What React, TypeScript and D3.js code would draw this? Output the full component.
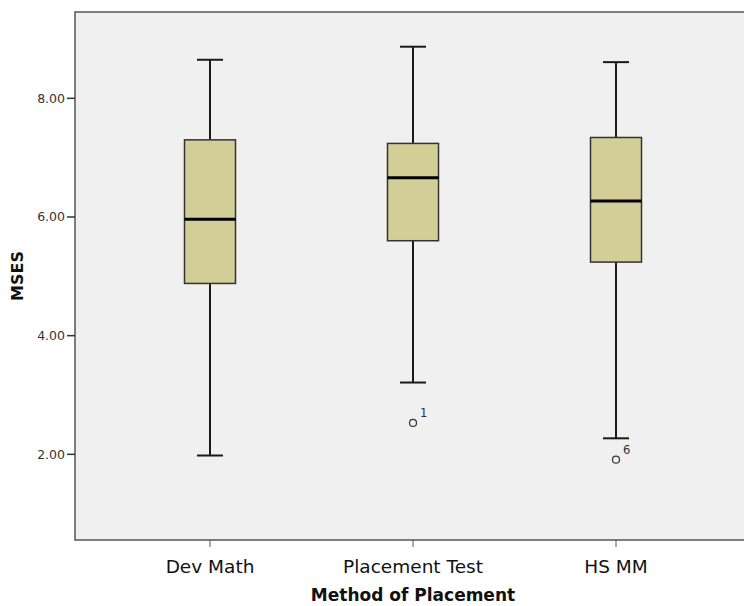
import React, { useEffect, useRef } from 'react';
import * as d3 from 'd3';

// Box plot summary values
const categories = ['Dev Math', 'Placement Test', 'HS MM'];
const whiskerLow = [1.98, 3.21, 2.27];
const q1 = [4.88, 5.60, 5.24];
const median = [5.96, 6.66, 6.27];
const q3 = [7.30, 7.24, 7.34];
const whiskerHigh = [8.65, 8.87, 8.61];
const outliers = [
    { cat: 'Placement Test', value: 2.53, label: '1' },
    { cat: 'HS MM', value: 1.91, label: '6' },
];
const yTicks = [2, 4, 6, 8];

const App = () => {
    const svgRef = useRef(null);

    useEffect(() => {
        const svg = d3.select(svgRef.current);
        svg.selectAll('*').remove();

        const left = 75, top = 12, right = 751, bottom = 540;
        const font = '"DejaVu Sans", Verdana, sans-serif';

        const x = d3.scalePoint()
            .domain(categories)
            .range([left, right])
            .padding(0.665);

        const y = d3.scaleLinear()
            .domain([0.556, 9.455])
            .range([bottom, top]);

        // Plot background
        svg.append('rect')
            .attr('x', left)
            .attr('y', top)
            .attr('width', right - left)
            .attr('height', bottom - top)
            .attr('fill', '#f0f0f0')
            .attr('stroke', '#555')
            .attr('stroke-width', 1.5);

        // Y axis ticks
        const yAxis = svg.append('g');
        yTicks.forEach(t => {
            yAxis.append('line')
                .attr('x1', left - 8).attr('x2', left)
                .attr('y1', y(t)).attr('y2', y(t))
                .attr('stroke', '#333').attr('stroke-width', 1.5);
            yAxis.append('text')
                .attr('x', left - 10)
                .attr('y', y(t))
                .attr('dy', '0.35em')
                .attr('text-anchor', 'end')
                .style('font-family', font)
                .style('font-size', '12.5px')
                .style('fill', '#333')
                .text(t.toFixed(2));
        });

        // X axis ticks
        const xAxis = svg.append('g');
        categories.forEach(c => {
            xAxis.append('line')
                .attr('x1', x(c)).attr('x2', x(c))
                .attr('y1', bottom).attr('y2', bottom + 7)
                .attr('stroke', '#555').attr('stroke-width', 1);
            xAxis.append('text')
                .attr('x', x(c))
                .attr('y', 573)
                .attr('text-anchor', 'middle')
                .style('font-family', font)
                .style('font-size', '18.5px')
                .style('fill', '#111')
                .text(c);
        });

        // Boxes
        const half = 25.5;
        const cap = 13;
        categories.forEach((c, i) => {
            const cx = x(c);
            const g = svg.append('g');
            g.append('line')
                .attr('x1', cx).attr('x2', cx)
                .attr('y1', y(whiskerHigh[i])).attr('y2', y(q3[i]))
                .attr('stroke', '#1a1a1a').attr('stroke-width', 2);
            g.append('line')
                .attr('x1', cx).attr('x2', cx)
                .attr('y1', y(q1[i])).attr('y2', y(whiskerLow[i]))
                .attr('stroke', '#1a1a1a').attr('stroke-width', 2);
            g.append('line')
                .attr('x1', cx - cap).attr('x2', cx + cap)
                .attr('y1', y(whiskerHigh[i])).attr('y2', y(whiskerHigh[i]))
                .attr('stroke', '#1a1a1a').attr('stroke-width', 2);
            g.append('line')
                .attr('x1', cx - cap).attr('x2', cx + cap)
                .attr('y1', y(whiskerLow[i])).attr('y2', y(whiskerLow[i]))
                .attr('stroke', '#1a1a1a').attr('stroke-width', 2);
            g.append('rect')
                .attr('x', cx - half)
                .attr('y', y(q3[i]))
                .attr('width', half * 2)
                .attr('height', y(q1[i]) - y(q3[i]))
                .attr('fill', '#d3ce98')
                .attr('stroke', '#333')
                .attr('stroke-width', 1.5);
            g.append('line')
                .attr('x1', cx - half).attr('x2', cx + half)
                .attr('y1', y(median[i])).attr('y2', y(median[i]))
                .attr('stroke', '#000').attr('stroke-width', 3);
        });

        // Outliers
        outliers.forEach(o => {
            svg.append('circle')
                .attr('cx', x(o.cat))
                .attr('cy', y(o.value))
                .attr('r', 3.5)
                .attr('fill', 'none')
                .attr('stroke', '#333')
                .attr('stroke-width', 1.2);
            svg.append('text')
                .attr('x', x(o.cat) + 7)
                .attr('y', y(o.value) - 6)
                .style('font-family', font)
                .style('font-size', '11.5px')
                .style('fill', '#333')
                .text(o.label);
        });

        // Axis titles
        svg.append('text')
            .attr('transform', `translate(23,${(top + bottom) / 2}) rotate(-90)`)
            .attr('text-anchor', 'middle')
            .style('font-family', font)
            .style('font-size', '16px')
            .style('font-weight', 'bold')
            .style('fill', '#111')
            .text('MSES');

        svg.append('text')
            .attr('x', 413)
            .attr('y', 601)
            .attr('text-anchor', 'middle')
            .style('font-family', font)
            .style('font-size', '17px')
            .style('font-weight', 'bold')
            .style('fill', '#111')
            .text('Method of Placement');
    }, []);

    return (
        <svg ref={svgRef} width={744} height={606}
            style={{ position: 'absolute', left: 0, top: 0, background: '#fff' }} />
    );
};

export default App;
